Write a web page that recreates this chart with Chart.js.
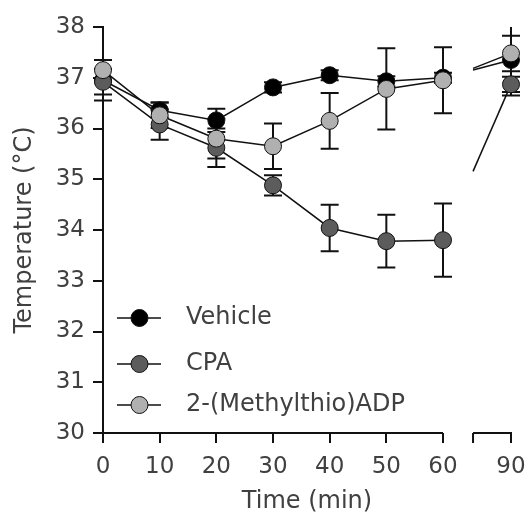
<!DOCTYPE html>
<html>
<head>
<meta charset="utf-8">
<script src="https://cdn.jsdelivr.net/npm/chart.js@4.4.0/dist/chart.umd.min.js"></script>
<style>
  html, body { margin: 0; padding: 0; background: #fff; }
  canvas { display: block; }
</style>
</head>
<body>
<canvas id="tempChart" width="528" height="518"></canvas>
<script>
// time points (min) and tick labels
const times = [0, 10, 20, 30, 40, 50, 60, 90];
const xTicks = [0, 10, 20, 30, 40, 50, 60, 90];
const yTicks = [30, 31, 32, 33, 34, 35, 36, 37, 38];

// mean body temperature (°C) and SEM per group
const vehicle    = [36.95, 36.36, 36.16, 36.81, 37.05, 36.93, 37.00, 37.35];
const vehicleSem = [0.40, 0.15, 0.23, 0.10, 0.10, 0.10, 0.10, 0.70];
const cpa        = [36.92, 36.08, 35.62, 34.88, 34.04, 33.78, 33.80, 36.87];
const cpaSem     = [0.25, 0.30, 0.38, 0.20, 0.46, 0.52, 0.72, 0.15];
const mtadp      = [37.15, 36.26, 35.80, 35.65, 36.15, 36.78, 36.95, 37.48];
const mtadpSem   = [0.20, 0.25, 0.39, 0.45, 0.55, 0.80, 0.65, 0.35];

const seriesNames = ["Vehicle", "CPA", "2-(Methylthio)ADP"];

// axis break between 60 and 90 min
const BREAK_AT = 60;
const SQUEEZE = 0.4;      // after the break 30 min take 12 units
const STUB_START = 65.3;  // where the short axis piece after the break begins (squeezed units)

const FONT = "'DejaVu Sans', sans-serif";
const TEXT = '#404040';
const INK = '#111';
const R = 8.5;
const CAP = 9;

class BrokenLinearScale extends Chart.LinearScale {
  squeeze(v) { return v <= BREAK_AT ? v : BREAK_AT + (v - BREAK_AT) * SQUEEZE; }
  unsqueeze(c) { return c <= BREAK_AT ? c : BREAK_AT + (c - BREAK_AT) / SQUEEZE; }
  pixelForSqueezed(c) {
    const lo = this.squeeze(this.min), hi = this.squeeze(this.max);
    return this.getPixelForDecimal((c - lo) / (hi - lo));
  }
  getPixelForValue(v) { return this.pixelForSqueezed(this.squeeze(v)); }
  getValueForPixel(p) {
    const lo = this.squeeze(this.min), hi = this.squeeze(this.max);
    return this.unsqueeze(lo + this.getDecimalForPixel(p) * (hi - lo));
  }
  buildTicks() { return xTicks.map(v => ({ value: v })); }
}
BrokenLinearScale.id = 'brokenLinear';
BrokenLinearScale.defaults = Chart.LinearScale.defaults;
Chart.register(BrokenLinearScale);

const crossesBreak = c => c.p0.parsed.x <= BREAK_AT && c.p1.parsed.x > BREAK_AT;

function makeSet(label, data, fill, order) {
  return {
    label, data, order,
    borderColor: INK,
    borderWidth: 1.5,
    pointRadius: R,
    pointBackgroundColor: fill,
    pointBorderColor: INK,
    pointBorderWidth: 1,
    clip: false,
    segment: { borderColor: c => crossesBreak(c) ? 'rgba(0,0,0,0)' : undefined }
  };
}

const fills = ['#000000', '#5c5c5c', '#b0b0b0'];
const sems = [vehicleSem, cpaSem, mtadpSem];
const legendRows = [318, 364, 405];

const extras = {
  id: 'extras',
  beforeDatasetsDraw(chart) {
    const { ctx, chartArea: a, scales: { x, y } } = chart;
    ctx.save();
    // x axis in two pieces
    ctx.strokeStyle = INK;
    ctx.lineWidth = 2;
    const stub = x.pixelForSqueezed(STUB_START);
    ctx.beginPath();
    ctx.moveTo(x.getPixelForValue(0) - 1, a.bottom);
    ctx.lineTo(x.getPixelForValue(BREAK_AT), a.bottom);
    ctx.moveTo(stub, a.bottom);
    ctx.lineTo(x.getPixelForValue(90) + 1, a.bottom);
    ctx.moveTo(stub, a.bottom);
    ctx.lineTo(stub, a.bottom + 10);
    ctx.stroke();

    ctx.beginPath();
    ctx.rect(0, a.top, chart.width, a.bottom - a.top);
    ctx.clip();
    chart.data.datasets.forEach((ds, i) => {
      const meta = chart.getDatasetMeta(i);
      // line across the break, only the part after the stub start
      ctx.lineWidth = 1.5;
      ctx.beginPath();
      for (let j = 1; j < meta.data.length; j++) {
        if (times[j - 1] <= BREAK_AT && times[j] > BREAK_AT) {
          const p0 = meta.data[j - 1], p1 = meta.data[j];
          const t = (stub - p0.x) / (p1.x - p0.x);
          ctx.moveTo(stub, p0.y + t * (p1.y - p0.y));
          ctx.lineTo(p1.x, p1.y);
        }
      }
      ctx.stroke();
      // error bars
      ctx.lineWidth = 2;
      ctx.beginPath();
      meta.data.forEach((pt, j) => {
        const hi = y.getPixelForValue(ds.data[j] + sems[i][j]);
        const lo = y.getPixelForValue(ds.data[j] - sems[i][j]);
        ctx.moveTo(pt.x, hi); ctx.lineTo(pt.x, lo);
        ctx.moveTo(pt.x - CAP, hi); ctx.lineTo(pt.x + CAP, hi);
        ctx.moveTo(pt.x - CAP, lo); ctx.lineTo(pt.x + CAP, lo);
      });
      ctx.stroke();
    });
    ctx.restore();
  },
  afterDraw(chart) {
    const { ctx } = chart;
    ctx.save();
    seriesNames.forEach((name, i) => {
      const yy = legendRows[i];
      ctx.strokeStyle = INK;
      ctx.lineWidth = 1.5;
      ctx.beginPath();
      ctx.moveTo(117, yy); ctx.lineTo(161, yy);
      ctx.stroke();
      ctx.beginPath();
      ctx.arc(139.5, yy, R, 0, Math.PI * 2);
      ctx.fillStyle = fills[i];
      ctx.fill();
      ctx.lineWidth = 1;
      ctx.stroke();
      ctx.fillStyle = TEXT;
      ctx.font = `24px ${FONT}`;
      ctx.textAlign = 'left';
      ctx.textBaseline = 'middle';
      ctx.fillText(name, 186, yy);
    });
    ctx.restore();
  }
};

const tickFont = { family: FONT, size: 23 };
const titleFont = { family: FONT, size: 24 };

new Chart(document.getElementById('tempChart'), {
  type: 'line',
  data: {
    labels: times,
    datasets: [
      makeSet(seriesNames[0], vehicle, fills[0], 2),
      makeSet(seriesNames[1], cpa, fills[1], 1),
      makeSet(seriesNames[2], mtadp, fills[2], 0)
    ]
  },
  options: {
    responsive: false,
    animation: false,
    events: [],
    layout: { padding: { top: 27, right: 17, left: 0, bottom: 0 } },
    plugins: { legend: { display: false }, tooltip: { enabled: false } },
    scales: {
      x: {
        type: 'brokenLinear',
        min: 0,
        max: 90,
        border: { display: false },
        grid: { drawOnChartArea: false, drawTicks: true, tickLength: 10, color: INK, lineWidth: 2 },
        ticks: { autoSkip: false, maxRotation: 0, padding: 10, color: TEXT, font: tickFont },
        title: { display: true, text: 'Time (min)', color: TEXT, font: titleFont, padding: { top: 0, bottom: 2 } },
        afterFit: s => { s.height = 85; s.paddingLeft = 0; s.paddingRight = 0; }
      },
      y: {
        min: 30,
        max: 38,
        border: { display: true, color: INK, width: 2 },
        grid: { drawOnChartArea: false, drawTicks: true, tickLength: 10, color: INK, lineWidth: 2 },
        ticks: { padding: 8, color: TEXT, font: tickFont },
        afterBuildTicks: s => { s.ticks = yTicks.map(v => ({ value: v })); },
        title: { display: true, text: 'Temperature (°C)', color: TEXT, font: titleFont, padding: { top: 10, bottom: 0 } },
        afterFit: s => { s.width = 103; s.paddingTop = 0; s.paddingBottom = 0; }
      }
    }
  },
  plugins: [extras]
});
</script>
</body>
</html>
